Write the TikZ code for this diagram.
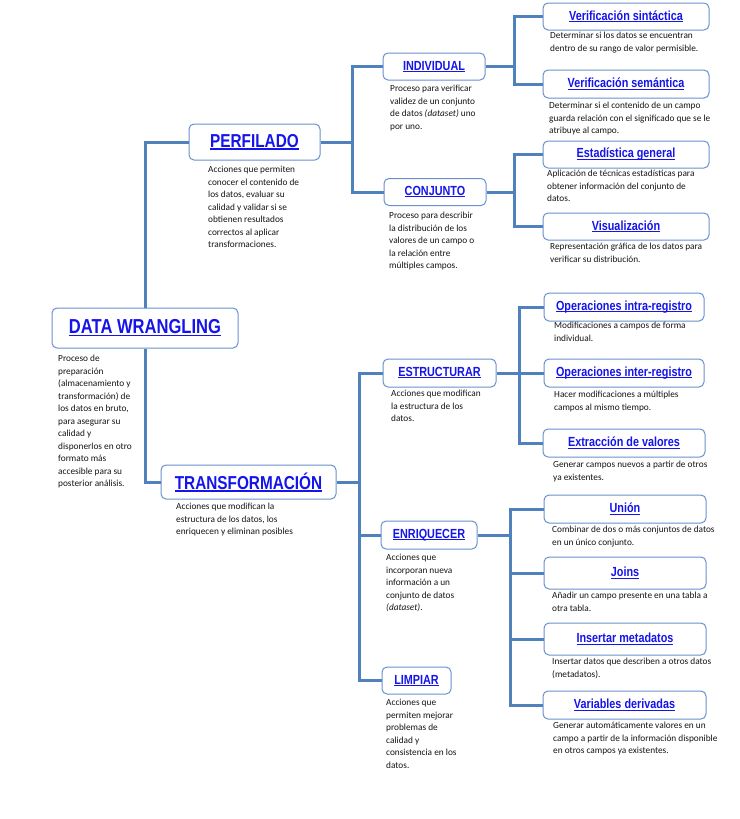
\documentclass[tikz,border=0pt]{standalone}
\usepackage{fontspec}
\setmainfont{Carlito}
\newfontfamily\ttlfont[FakeStretch=0.82]{Liberation Sans}
\usepackage{tikz}

\definecolor{linkc}{RGB}{79,129,189}
\definecolor{boxc}{RGB}{105,145,205}
\definecolor{ttlc}{RGB}{20,20,235}
\definecolor{txtc}{RGB}{20,20,20}

% underlined title text
\newcommand{\ulbl}[1]{\leavevmode\setbox0=\hbox{#1}\rlap{\rule[-0.13em]{\wd0}{0.08em}}\box0}

\begin{document}
\begin{tikzpicture}[x=1pt,y=-1pt,
  link/.style={draw=linkc,line width=3pt},
  box/.style={draw=boxc,fill=white,rounded corners=5pt,line width=1pt,inner sep=0pt,text=ttlc},
  big/.style={box,font=\ttlfont\bfseries\fontsize{18.7}{18.7}\selectfont},
  mid/.style={box,font=\ttlfont\bfseries\fontsize{13.2}{13.2}\selectfont,minimum height=27pt},
  desc/.style={anchor=north west,align=left,inner sep=0pt,text=txtc,font=\fontsize{9.3}{12.5}\selectfont}]
  \useasboundingbox (0,0) rectangle (739,819);

  % main branches
  \node[big,minimum width=186pt,minimum height=40pt,font=\ttlfont\bfseries\fontsize{20.2}{20.2}\selectfont] (dw) at (145,328) {\ulbl{DATA WRANGLING}};
  \node[big,minimum width=131pt,minimum height=36pt] (perf) at (254.5,142) {\ulbl{PERFILADO}};
  \node[big,minimum width=175pt,minimum height=34pt] (transf) at (248.5,482) {\ulbl{TRANSFORMACIÓN}};
  \node[desc] (dwtxt) at (58,355) {Proceso de\\preparación\\(almacenamiento y\\transformación) de\\los datos en bruto,\\para asegurar su\\calidad y\\disponerlos en otro\\formato más\\accesible para su\\posterior análisis.};
  \node[desc] (perftxt) at (208,166) {Acciones que permiten\\conocer el contenido de\\los datos, evaluar su\\calidad y validar si se\\obtienen resultados\\correctos al aplicar\\transformaciones.};
  \node[desc] (transftxt) at (176,503) {Acciones que modifican la\\estructura de los datos, los\\enriquecen y eliminan posibles};

  % perfilado
  \node[mid,minimum width=102pt] (indiv) at (434,66.5) {\ulbl{INDIVIDUAL}};
  \node[mid,minimum width=102pt] (conj) at (435,192) {\ulbl{CONJUNTO}};
  \node[desc] (indivtxt) at (390,85) {Proceso para verificar\\validez de un conjunto\\de datos \textit{(dataset)} uno\\por uno.};
  \node[desc] (conjtxt) at (389,212) {Proceso para describir\\la distribución de los\\valores de un campo o\\la relación entre\\múltiples campos.};

  \node[mid,minimum width=166pt] (vsin) at (626,16.5) {\ulbl{Verificación sintáctica}};
  \node[mid,minimum width=166pt,minimum height=28pt] (vsem) at (626,84) {\ulbl{Verificación semántica}};
  \node[mid,minimum width=166pt] (est) at (626,154.5) {\ulbl{Estadística general}};
  \node[mid,minimum width=166pt] (vis) at (626,226.5) {\ulbl{Visualización}};
  \node[desc] (vsintxt) at (550,32) {Determinar si los datos se encuentran\\dentro de su rango de valor permisible.};
  \node[desc] (vsemtxt) at (549,102) {Determinar si el contenido de un campo\\guarda relación con el significado que se le\\atribuye al campo.};
  \node[desc] (esttxt) at (547,170) {Aplicación de técnicas estadísticas para\\obtener información del conjunto de\\datos.};
  \node[desc] (vistxt) at (550,243) {Representación gráfica de los datos para\\verificar su distribución.};

  % transformacion
  \node[mid,minimum width=113pt,minimum height=28pt] (estr) at (439.5,373) {\ulbl{ESTRUCTURAR}};
  \node[mid,minimum width=96pt,minimum height=28pt] (enr) at (429,535) {\ulbl{ENRIQUECER}};
  \node[mid,minimum width=69pt] (limp) at (416.5,680.5) {\ulbl{LIMPIAR}};
  \node[desc] (estrtxt) at (391,390) {Acciones que modifican\\la estructura de los\\datos.};
  \node[desc] (enrtxt) at (386,554) {Acciones que\\incorporan nueva\\información a un\\conjunto de datos\\\textit{(dataset)}.};
  \node[desc] (limptxt) at (386,699) {Acciones que\\permiten mejorar\\problemas de\\calidad y\\consistencia en los\\datos.};

  \node[mid,minimum width=160pt,minimum height=28pt] (intra) at (624,307) {\ulbl{Operaciones intra-registro}};
  \node[mid,minimum width=160pt,minimum height=28pt] (inter) at (624,373) {\ulbl{Operaciones inter-registro}};
  \node[mid,minimum width=162pt,minimum height=28pt] (extr) at (624,443) {\ulbl{Extracción de valores}};
  \node[desc] (intratxt) at (554,322) {Modificaciones a campos de forma\\individual.};
  \node[desc] (intertxt) at (554,391) {Hacer modificaciones a múltiples\\campos al mismo tiempo.};
  \node[desc] (extrtxt) at (553,461) {Generar campos nuevos a partir de otros\\ya existentes.};

  \node[mid,minimum width=162pt,minimum height=28pt] (union) at (625,509) {\ulbl{Unión}};
  \node[mid,minimum width=162pt,minimum height=32pt] (joins) at (625,573) {\ulbl{Joins}};
  \node[mid,minimum width=162pt,minimum height=32pt] (ins) at (625,639) {\ulbl{Insertar metadatos}};
  \node[mid,minimum width=163pt,minimum height=28pt] (vars) at (624.5,705) {\ulbl{Variables derivadas}};
  \node[desc] (uniontxt) at (552,526) {Combinar de dos o más conjuntos de datos\\en un único conjunto.};
  \node[desc] (joinstxt) at (552,592) {Añadir un campo presente en una tabla a\\otra tabla.};
  \node[desc] (instxt) at (552,658) {Insertar datos que describen a otros datos\\(metadatos).};
  \node[desc] (varstxt) at (553,722) {Generar automáticamente valores en un\\campo a partir de la información disponible\\en otros campos ya existentes.};

  % connectors
  \coordinate (pbus) at (352,142);
  \coordinate (ibus) at (514,66.5);
  \coordinate (cbus) at (514,192);
  \coordinate (tbus) at (359,482);
  \coordinate (sbus) at (519,373);
  \coordinate (ebus) at (510,535);
  \draw[link] (perf.west) -| (dw.north);
  \draw[link] (dw.south) |- (transf.west);
  \draw[link] (perf.east) -- (pbus);
  \draw[link] (indiv.west) -| (pbus) |- (conj.west);
  \draw[link] (indiv.east) -- (ibus);
  \draw[link] (vsin.west) -| (ibus) |- (vsem.west);
  \draw[link] (conj.east) -- (cbus);
  \draw[link] (est.west) -| (cbus) |- (vis.west);
  \draw[link] (transf.east) -- (tbus);
  \draw[link] (estr.west) -| (tbus) |- (limp.west);
  \draw[link] (tbus |- enr.west) -- (enr.west);
  \draw[link] (estr.east) -- (sbus);
  \draw[link] (intra.west) -| (sbus) |- (extr.west);
  \draw[link] (sbus) -- (inter.west);
  \draw[link] (enr.east) -- (ebus);
  \draw[link] (union.west) -| (ebus) |- (vars.west);
  \draw[link] (ebus |- joins.west) -- (joins.west);
  \draw[link] (ebus |- ins.west) -- (ins.west);
\end{tikzpicture}
\end{document}
